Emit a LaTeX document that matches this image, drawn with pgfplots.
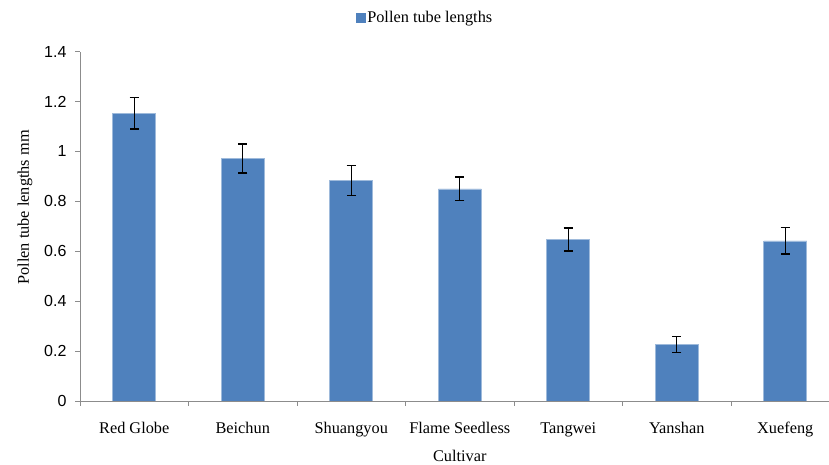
\documentclass[border=0pt]{standalone}
\usepackage{pgfplots}
\pgfplotsset{compat=1.18}
\usepackage{pgfplotstable}
\usepackage{fontspec}
\setmainfont{Liberation Serif}
\newfontfamily\arialfont{Liberation Sans}
\definecolor{barblue}{HTML}{4F81BD}
\definecolor{axgray}{HTML}{8C8C8C}
\pgfplotstableread{
x y e
0 1.153 0.063
1 0.972 0.058
2 0.884 0.061
3 0.850 0.048
4 0.647 0.046
5 0.226 0.032
6 0.642 0.053
}\datatable
\begin{document}
\begin{tikzpicture}
\useasboundingbox (0,0) rectangle (829pt,465pt);
\begin{axis}[
  at={(80pt,64pt)}, anchor=south west,
  scale only axis, width=759.5pt, height=349.3pt,
  xmin=-0.5, xmax=6.5, ymin=0, ymax=1.4,
  axis lines*=left,
  axis line style={axgray, line width=0.8pt},
  ytick={0,0.2,0.4,0.6,0.8,1,1.2,1.4},
  yticklabels={0,0.2,0.4,0.6,0.8,1,1.2,1.4},
  xtick={0,1,2,3,4,5,6},
  xticklabels={Red Globe,Beichun,Shuangyou,Flame Seedless,Tangwei,Yanshan,Xuefeng},
  minor xtick={-0.5,0.5,1.5,2.5,3.5,4.5,5.5,6.5},
  major x tick style={draw=none},
  tick align=outside,
  major tick length=5pt, minor tick length=5pt,
  tick style={axgray, line width=0.8pt},
  /pgf/number format/assume math mode=true,
  yticklabel style={font=\arialfont\fontsize{16}{16}\selectfont, anchor=east, xshift=-5pt},
  xticklabel style={font=\fontsize{16.3}{18}\selectfont, anchor=base, yshift=-27pt},
  ylabel={Pollen tube lengths mm},
  ylabel style={font=\fontsize{16.3}{18}\selectfont, at={(axis description cs:-0.0724,0.554)}, anchor=center},
  xlabel={Cultivar},
  xlabel style={font=\fontsize{16.3}{18}\selectfont, at={(axis description cs:0.5,-0.1738)}, anchor=base},
  ybar, bar width=43pt, bar shift=0pt,
  legend style={draw=none, fill=none, at={(axis description cs:0.4542,1.098)}, anchor=center, font=\fontsize{16.3}{18}\selectfont, inner sep=0pt},
]
\addplot[fill=barblue, draw=barblue!55!white, line width=0.6pt,
  legend image code/.code={\fill[barblue] (0pt,-4.5pt) rectangle (9pt,4.5pt);},
  error bars/.cd, y dir=both, y explicit,
  error bar style={black, line width=1.2pt},
  error mark options={rotate=90, mark size=4.7pt, black, line width=1.2pt}]
  table[x=x, y=y, y error=e] {\datatable};
\addlegendentry{Pollen tube lengths}
\end{axis}
\end{tikzpicture}
\end{document}
